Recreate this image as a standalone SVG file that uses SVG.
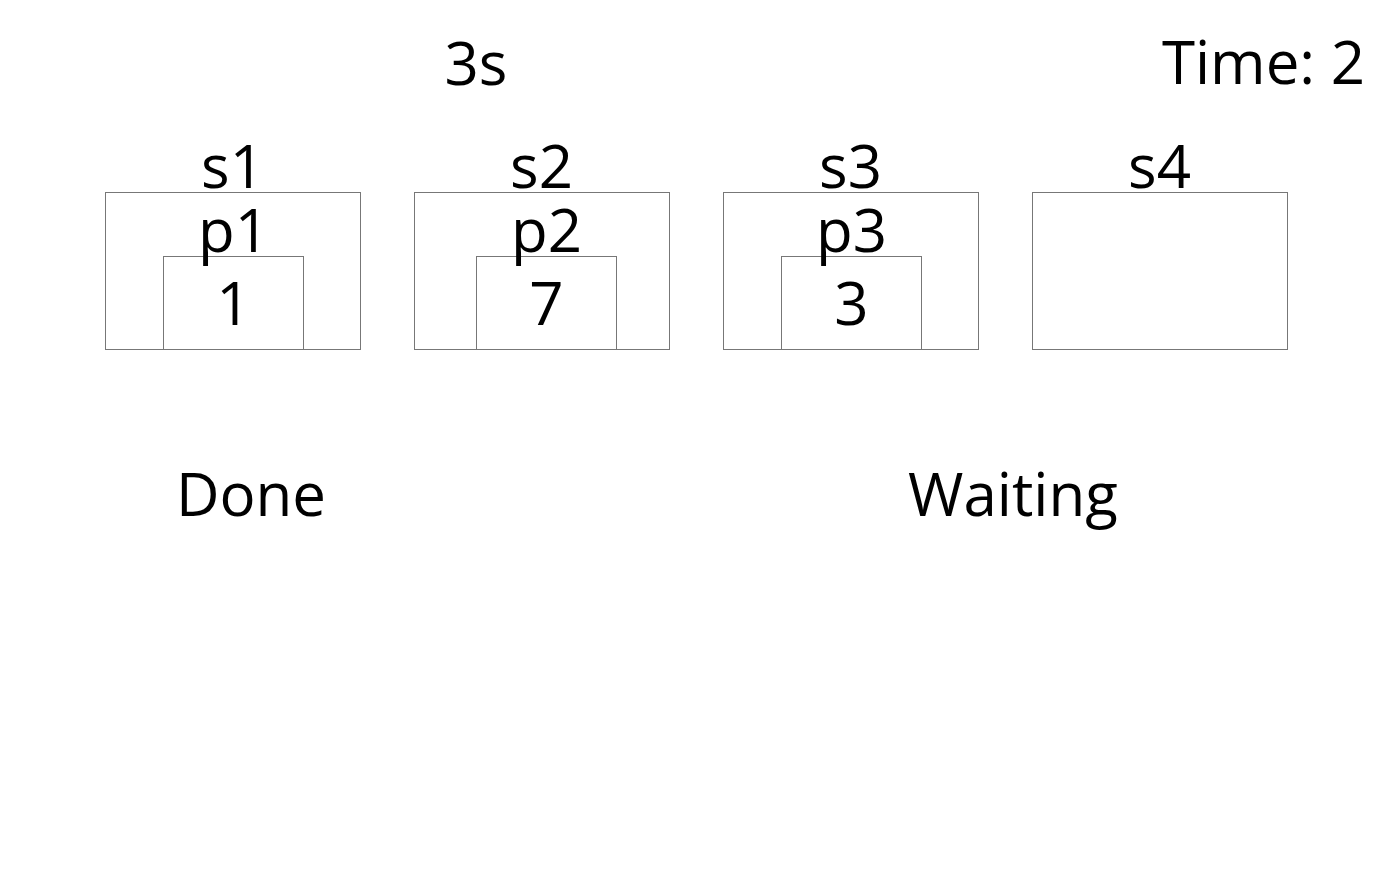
<svg xmlns="http://www.w3.org/2000/svg" width="1392" height="895" viewBox="0 0 1392 895">
<style>
text{font-family:"Open Sans","Noto Sans",sans-serif;font-size:60px;fill:#000;text-anchor:middle}
.box{fill:none;stroke:#777;stroke-width:1}
</style>
<rect width="1392" height="895" fill="#fff"/>
<g id="header">
<text x="476" y="85">3s</text>
<text x="1365" y="84" style="text-anchor:end">Time: 2</text>
</g>
<g id="s1">
<rect class="box" x="105.5" y="192.5" width="255" height="157"/>
<text x="232.5" y="188">s1</text>
<g id="p1">
<rect class="box" x="163.5" y="256.5" width="140" height="93"/>
<text x="233.5" y="252">p1</text>
<text x="233.5" y="325">1</text>
</g>
</g>
<g id="s2">
<rect class="box" x="414.5" y="192.5" width="255" height="157"/>
<text x="541.5" y="188">s2</text>
<g id="p2">
<rect class="box" x="476.5" y="256.5" width="140" height="93"/>
<text x="546.5" y="252">p2</text>
<text x="546.5" y="325">7</text>
</g>
</g>
<g id="s3">
<rect class="box" x="723.5" y="192.5" width="255" height="157"/>
<text x="850.5" y="188">s3</text>
<g id="p3">
<rect class="box" x="781.5" y="256.5" width="140" height="93"/>
<text x="851.5" y="252">p3</text>
<text x="851.5" y="325">3</text>
</g>
</g>
<g id="s4">
<rect class="box" x="1032.5" y="192.5" width="255" height="157"/>
<text x="1159.5" y="188">s4</text>
</g>
<g id="labels">
<text x="251" y="516">Done</text>
<text x="1013" y="516">Waiting</text>
</g>
<g id="connectors"/>
</svg>
